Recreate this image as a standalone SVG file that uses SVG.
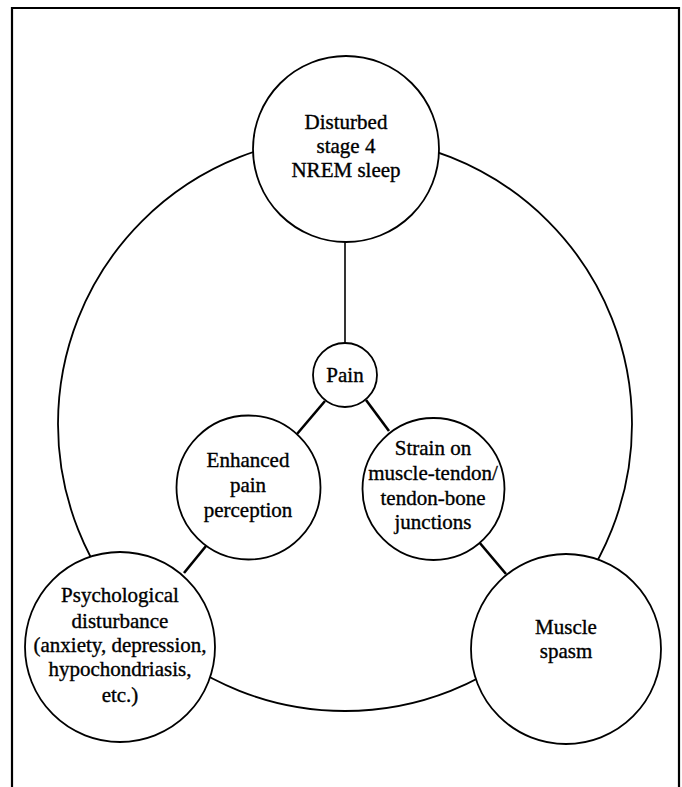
<svg xmlns="http://www.w3.org/2000/svg" width="682" height="787" viewBox="0 0 682 787">
<style>
.node{fill:#fff;stroke:#000;stroke-width:1.8}
.ring{fill:none;stroke:#000;stroke-width:1.8}
.link{stroke:#000;stroke-width:2.6;fill:none}
.thin{stroke:#000;stroke-width:1.6;fill:none}
text{font-family:"Liberation Serif","Times New Roman",serif;font-size:21px;fill:#000;stroke:#000;stroke-width:0.35;text-anchor:middle}
</style>
<rect width="682" height="787" fill="#fff"/>
<path d="M12,790 V8 H679 V790" fill="none" stroke="#000" stroke-width="2.2"/>
<circle class="ring" cx="345" cy="424" r="287"/>
<g id="connectors">
<line class="thin" x1="345" y1="241" x2="345" y2="343"/>
<line class="link" x1="325" y1="401" x2="297" y2="434"/>
<line class="link" x1="366" y1="400" x2="389" y2="431"/>
<line class="link" x1="206" y1="546" x2="184" y2="573"/>
<line class="link" x1="479" y1="542" x2="506" y2="574"/>
</g>
<g id="sleep">
<circle class="node" cx="346" cy="149" r="93"/>
<text x="346" y="129">Disturbed</text>
<text x="346" y="153">stage 4</text>
<text x="346" y="177">NREM sleep</text>
</g>
<g id="pain">
<circle class="node" cx="345" cy="375" r="32"/>
<text x="345" y="382">Pain</text>
</g>
<g id="enhanced">
<circle class="node" cx="248.5" cy="487.5" r="72"/>
<text x="248" y="467">Enhanced</text>
<text x="248" y="492">pain</text>
<text x="248" y="517">perception</text>
</g>
<g id="strain">
<circle class="node" cx="433.5" cy="489" r="71"/>
<text x="433" y="455">Strain on</text>
<text x="433" y="480">muscle-tendon/</text>
<text x="433" y="505">tendon-bone</text>
<text x="433" y="529">junctions</text>
</g>
<g id="psych">
<circle class="node" cx="120" cy="647" r="95"/>
<text x="120" y="602">Psychological</text>
<text x="120" y="628">disturbance</text>
<text x="120" y="652">(anxiety, depression,</text>
<text x="120" y="676">hypochondriasis,</text>
<text x="120" y="702">etc.)</text>
</g>
<g id="spasm">
<circle class="node" cx="566" cy="649" r="95"/>
<text x="566" y="634">Muscle</text>
<text x="566" y="658">spasm</text>
</g>
</svg>
